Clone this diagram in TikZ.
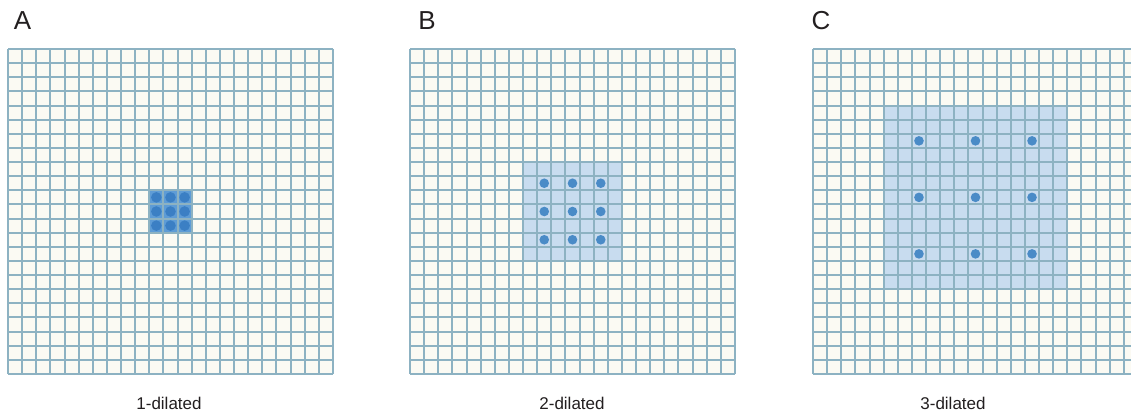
\documentclass[tikz,border=0pt]{standalone}
\usepackage{fontspec}
\setmainfont{Liberation Sans}
\definecolor{gridc}{HTML}{8DB2C2}
\definecolor{cellc}{HTML}{FBFAF3}
\definecolor{shadec}{HTML}{C8DCEF}
\definecolor{dotc}{HTML}{4A8BC7}
\definecolor{cellA}{HTML}{5E9CD6}
\definecolor{dotA}{HTML}{3B7FC4}
\definecolor{textc}{HTML}{231F20}
\begin{document}
\begin{tikzpicture}[x=1pt,y=-1pt,
  gridline/.style={draw=gridc,line width=1.5pt},
  panellabel/.style={anchor=base,text=textc,font=\fontsize{26}{28}\selectfont,inner sep=0pt},
  caption/.style={anchor=base,text=textc,font=\fontsize{17}{19}\selectfont,inner sep=0pt}]
\def\s{14.13}
\path[fill=white] (0,0) rectangle (1131,414);
\useasboundingbox (0,0) rectangle (1131,414);
\begin{scope}
\clip (0,0) rectangle (1131,414);
% cell backgrounds
\foreach \ox in {8,410,813}{
  \fill[cellc] (\ox,49) rectangle ++(325,325);
}
% shaded regions
\fill[cellA] (8+10*\s,49+10*\s) rectangle ++(3*\s,3*\s);
\fill[shadec] (410+8*\s,49+8*\s) rectangle ++(7*\s,7*\s);
\fill[shadec] (813+5*\s,49+4*\s) rectangle ++(13*\s,13*\s);
% grid lines (snapped to whole pixels)
\foreach \ox in {8,410,813}{
  \foreach \i in {0,...,23}{
    \pgfmathsetmacro{\xx}{round(\ox+\i*\s)}
    \pgfmathsetmacro{\yy}{round(49+\i*\s)}
    \draw[gridline] (\xx,49) -- (\xx,374);
    \draw[gridline] (\ox,\yy) -- (\ox+325,\yy);
  }
}
% dots
\foreach \i in {10,11,12}{\foreach \j in {10,11,12}{
  \fill[dotA] (8+\i*\s+0.5*\s,49+\j*\s+0.5*\s) circle (5.3pt);}}
\foreach \i in {9,11,13}{\foreach \j in {9,11,13}{
  \fill[dotc] (410+\i*\s+0.5*\s,49+\j*\s+0.5*\s) circle (4.8pt);}}
\foreach \i in {7,11,15}{\foreach \j in {6,10,14}{
  \fill[dotc] (813+\i*\s+0.5*\s,49+\j*\s+0.5*\s) circle (4.8pt);}}
\end{scope}
% labels
\node[panellabel] (labA) at (22.5,30) {A};
\node[panellabel] (labB) at (427,30) {B};
\node[panellabel] (labC) at (821,30) {C};
\node[caption] (capA) at (169,409.5) {1-dilated};
\node[caption] (capB) at (572,409.5) {2-dilated};
\node[caption] (capC) at (953,409.5) {3-dilated};
\end{tikzpicture}
\end{document}
